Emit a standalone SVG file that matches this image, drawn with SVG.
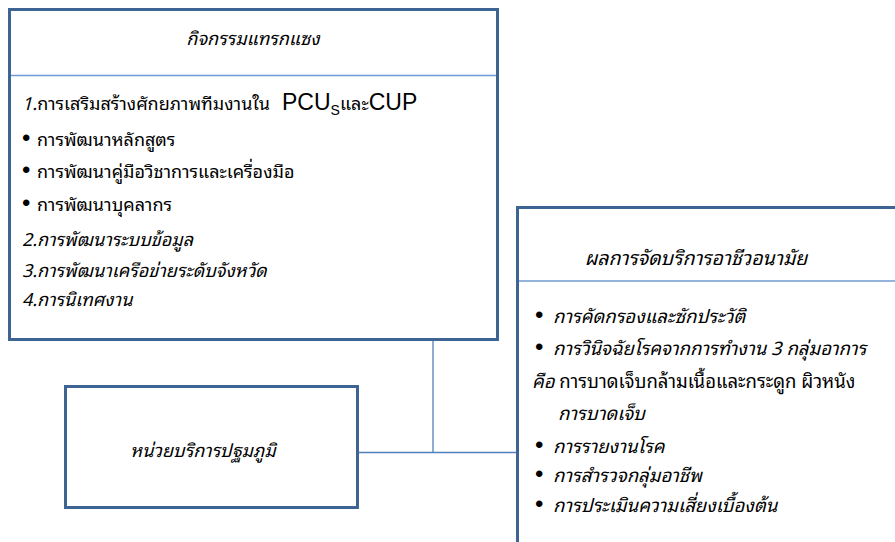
<svg xmlns="http://www.w3.org/2000/svg" width="895" height="542" viewBox="0 0 895 542">
<style>
.box{fill:#ffffff;stroke:#3e6494;stroke-width:3}
.div{stroke:#6f9bd2;stroke-width:1.5;fill:none}
.con{stroke:#4f81bd;stroke-width:1.3;fill:none}
text{font-family:"Noto Sans Thai Looped","Tahoma","Noto Sans Thai","DejaVu Sans",sans-serif;font-size:18px;fill:#000}
.it{font-style:italic}
.lat{font-family:"Liberation Sans","Open Sans",sans-serif}
.b{font-size:24px;font-family:"Liberation Sans",sans-serif;font-style:normal}
.r text{font-size:18.5px}
.r .t{font-size:19.5px}
</style>
<rect width="895" height="542" fill="#ffffff"/>
<g id="connectors">
<line class="con" x1="433" y1="341" x2="433" y2="452.5"/>
<line class="con" x1="357.5" y1="452.5" x2="517.5" y2="452.5"/>
</g>
<g id="intervention">
<rect class="box" x="9.5" y="9.5" width="488" height="330"/>
<line class="div" x1="11" y1="75.5" x2="496" y2="75.5"/>
<text class="it" x="253" y="45" text-anchor="middle">กิจกรรมแทรกแซง</text>
<text x="22" y="110"><tspan class="it">1.</tspan>การเสริมสร้างศักยภาพทีมงานใน <tspan class="lat" font-size="23" x="282">PCU</tspan><tspan class="lat" font-size="14" dy="5">S</tspan><tspan dy="-5">และ</tspan><tspan class="lat" font-size="23">CUP</tspan></text>
<text x="22" y="146"><tspan class="b">•</tspan><tspan x="37">การพัฒนาหลักสูตร</tspan></text>
<text x="22" y="178"><tspan class="b">•</tspan><tspan x="37">การพัฒนาคู่มือวิชาการและเครื่องมือ</tspan></text>
<text x="22" y="211"><tspan class="b">•</tspan><tspan x="37">การพัฒนาบุคลากร</tspan></text>
<text class="it" x="22" y="246">2.การพัฒนาระบบข้อมูล</text>
<text class="it" x="22" y="277">3.การพัฒนาเครือข่ายระดับจังหวัด</text>
<text class="it" x="22" y="306">4.การนิเทศงาน</text>
</g>
<g id="results" class="r">
<rect class="box" x="517.5" y="207.5" width="420" height="360"/>
<line class="div" x1="519" y1="281" x2="895" y2="281"/>
<text class="it t" x="696" y="265" text-anchor="middle">ผลการจัดบริการอาชีวอนามัย</text>
<text x="535" y="323"><tspan class="b">•</tspan><tspan class="it" x="553">การคัดกรองและซักประวัติ</tspan></text>
<text x="535" y="355"><tspan class="b">•</tspan><tspan class="it" x="553">การวินิจฉัยโรคจากการทำงาน 3 กลุ่มอาการ</tspan></text>
<text x="532" y="388"><tspan class="it">คือ</tspan> การบาดเจ็บกล้ามเนื้อและกระดูก ผิวหนัง</text>
<text class="it" x="558" y="420">การบาดเจ็บ</text>
<text x="535" y="453"><tspan class="b">•</tspan><tspan class="it" x="553">การรายงานโรค</tspan></text>
<text x="535" y="482"><tspan class="b">•</tspan><tspan class="it" x="553">การสำรวจกลุ่มอาชีพ</tspan></text>
<text x="535" y="512"><tspan class="b">•</tspan><tspan class="it" x="553">การประเมินความเสี่ยงเบื้องต้น</tspan></text>
</g>
<g id="primary-care">
<rect class="box" x="65.5" y="386.5" width="292" height="121"/>
<text class="it" x="203" y="457" text-anchor="middle">หน่วยบริการปฐมภูมิ</text>
</g>
</svg>
